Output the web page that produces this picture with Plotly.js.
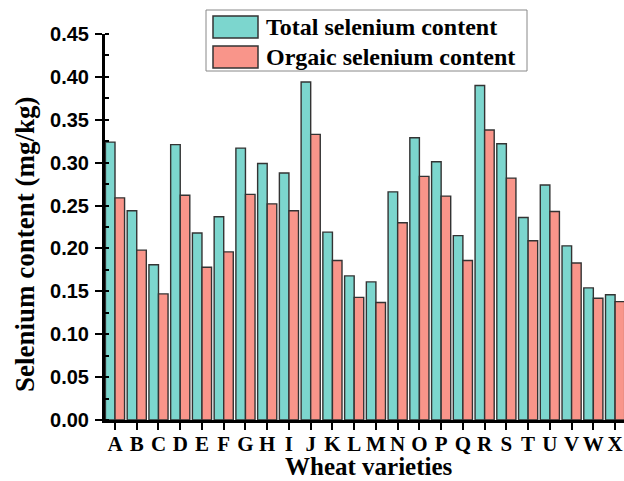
<!DOCTYPE html>
<html>
<head>
<meta charset="utf-8">
<script src="https://cdn.plot.ly/plotly-3.0.1.min.js"></script>
<style>html,body{margin:0;padding:0;background:#fff;}#chart{width:624px;height:481px;}</style>
</head>
<body>
<div id="chart"></div>
<script>
const categories = ["A","B","C","D","E","F","G","H","I","J","K","L","M","N","O","P","Q","R","S","T","U","V","W","X"];
const totalSe = [0.324,0.244,0.181,0.321,0.218,0.237,0.317,0.299,0.288,0.394,0.219,0.168,0.161,0.266,0.329,0.301,0.215,0.390,0.322,0.236,0.274,0.203,0.154,0.146];
const organicSe = [0.259,0.198,0.147,0.262,0.178,0.196,0.263,0.252,0.244,0.333,0.186,0.143,0.137,0.230,0.284,0.261,0.186,0.338,0.282,0.209,0.243,0.183,0.142,0.138];
const seriesNames = ["Total selenium content","Orgaic selenium content"];
const xTitle = "Wheat varieties";
const yTitle = "Selenium content (mg/kg)";
const yTickVals = [0,0.05,0.10,0.15,0.20,0.25,0.30,0.35,0.40,0.45];
const yTickText = ["0.00","0.05","0.10","0.15","0.20","0.25","0.30","0.35","0.40","0.45"];

const teal = "#7cd6ce";
const salmon = "#f9958a";
const edge = "#333333";
const serif = "Liberation Serif, Times New Roman, serif";
const sans = "Liberation Sans, Arial, sans-serif";

const traces = [
  {type:"bar", name:seriesNames[0], x:categories, y:totalSe,
   marker:{color:teal, line:{color:edge, width:1.4}}, showlegend:false},
  {type:"bar", name:seriesNames[1], x:categories, y:organicSe,
   marker:{color:salmon, line:{color:edge, width:1.4}}, showlegend:false}
];

// custom legend and titles (paper coords relative to plot area)
const L = 105, R = 624, T = 34, B = 420;
const px = v => (v - L) / (R - L);
const py = v => (B - v) / (B - T);

const shapes = [
  {type:"rect", xref:"paper", yref:"paper", x0:px(206), x1:px(527), y0:py(71), y1:py(10),
   line:{color:"#888", width:1}, fillcolor:"#fff"},
  {type:"rect", xref:"paper", yref:"paper", x0:px(213), x1:px(258), y0:py(38), y1:py(16),
   line:{color:edge, width:1.5}, fillcolor:teal},
  {type:"rect", xref:"paper", yref:"paper", x0:px(213), x1:px(258), y0:py(68), y1:py(46),
   line:{color:edge, width:1.5}, fillcolor:salmon}
];
const annotations = [
  {xref:"paper", yref:"paper", x:px(264), y:py(27), xanchor:"left", yanchor:"middle",
   text:"<b>"+seriesNames[0]+"</b>", showarrow:false, font:{family:serif, size:24, color:"#000"}},
  {xref:"paper", yref:"paper", x:px(264), y:py(57), xanchor:"left", yanchor:"middle",
   text:"<b>"+seriesNames[1]+"</b>", showarrow:false, font:{family:serif, size:24, color:"#000"}},
  {xref:"paper", yref:"paper", x:px(368.5), y:py(466), xanchor:"center", yanchor:"middle",
   text:"<b>"+xTitle+"</b>", showarrow:false, font:{family:serif, size:25, color:"#000"}},
  {xref:"paper", yref:"paper", x:px(25), y:py(245), xanchor:"center", yanchor:"middle", textangle:-90,
   text:"<b>"+yTitle+"</b>", showarrow:false, font:{family:serif, size:27, color:"#000"}}
];

const layout = {
  width:624, height:481,
  margin:{l:L, r:0, t:T, b:481-B, pad:0},
  paper_bgcolor:"#fff", plot_bgcolor:"#fff",
  barmode:"group", bargap:0.12, bargroupgap:0,
  showlegend:false,
  xaxis:{
    type:"category", range:[-0.46, 23.41], showgrid:false, zeroline:false,
    tickmode:"linear", dtick:1, tick0:0,
    showline:true, linecolor:"#000", linewidth:3,
    ticks:"outside", ticklen:7, tickwidth:2, tickcolor:"#000",
    tickfont:{family:serif, size:21, color:"#000", weight:"bold"},
    ticklabelstandoff:-4,
    automargin:false
  },
  yaxis:{
    range:[0,0.45], showgrid:false, zeroline:false,
    showline:true, linecolor:"#000", linewidth:3,
    tickvals:yTickVals, ticktext:yTickText,
    ticks:"outside", ticklen:7, tickwidth:2, tickcolor:"#000",
    minor:{ticks:"inside", ticklen:4, tickwidth:2, tickcolor:"#000", dtick:0.025, tick0:0, showgrid:false},
    tickfont:{family:sans, size:20, color:"#000", weight:"bold"},
    ticklabelstandoff:2,
    automargin:false
  },
  shapes:shapes,
  annotations:annotations
};

Plotly.newPlot("chart", traces, layout, {staticPlot:true, displayModeBar:false});
</script>
</body>
</html>
